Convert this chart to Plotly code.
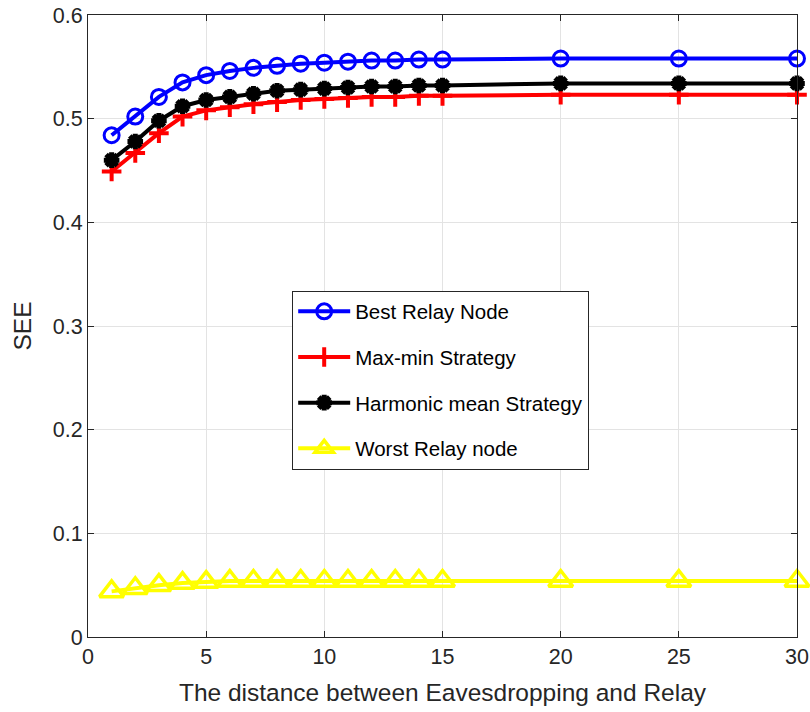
import plotly.graph_objects as go

distance = [1, 2, 3, 4, 5, 6, 7, 8, 9, 10, 11, 12, 13, 14, 15, 20, 25, 30]
best_relay = [0.484, 0.502, 0.521, 0.535, 0.542, 0.546, 0.549, 0.551, 0.553, 0.554,
              0.555, 0.556, 0.556, 0.557, 0.557, 0.558, 0.558, 0.558]
max_min = [0.449, 0.467, 0.486, 0.502, 0.508, 0.511, 0.514, 0.516, 0.518, 0.519,
           0.520, 0.521, 0.521, 0.522, 0.522, 0.523, 0.523, 0.523]
harmonic = [0.460, 0.478, 0.498, 0.512, 0.518, 0.521, 0.524, 0.527, 0.528, 0.529,
            0.530, 0.531, 0.531, 0.532, 0.532, 0.534, 0.534, 0.534]
worst_relay = [0.044, 0.047, 0.050, 0.052, 0.053, 0.054, 0.054, 0.054, 0.054, 0.054,
               0.054, 0.054, 0.054, 0.054, 0.054, 0.054, 0.054, 0.054]

series = [
    ("Best Relay Node", best_relay, "blue", "circle-open", 15, 3),
    ("Max-min Strategy", max_min, "red", "cross-thin-open", 14, 4),
    ("Harmonic mean Strategy", harmonic, "black", "asterisk-open", 13, 5),
    ("Worst Relay node", worst_relay, "#ffff00", "triangle-up-open", 21, 3.5),
]

fig = go.Figure()
for i, (name, ys, col, sym, sz, mlw) in enumerate(series):
    fig.add_trace(go.Scatter(
        x=distance, y=ys, name=name, mode="lines+markers",
        line=dict(color=col, width=4),
        marker=dict(symbol=sym, size=sz, color=col, line=dict(color=col, width=mlw)),
        legendgroup=f"g{i}", cliponaxis=False,
    ))

axis_common = dict(
    showline=True, linecolor="#262626", linewidth=1, mirror="ticks",
    ticks="inside", ticklen=6, tickcolor="#262626",
    showgrid=True, gridcolor="#e3e3e3", gridwidth=1, zeroline=False,
    automargin=False,
    tickfont=dict(family="Liberation Sans, Arial, sans-serif", size=21.5, color="#262626"),
)

fig.update_layout(
    width=810, height=712,
    margin=dict(l=88, r=13, t=15, b=75),
    plot_bgcolor="white", paper_bgcolor="white",
    font=dict(family="Liberation Sans, Arial, sans-serif", color="#262626"),
    xaxis=dict(range=[0, 30], dtick=5, tick0=0,
               title=dict(text="The distance between Eavesdropping and Relay",
                          font=dict(size=24.5, color="#262626"), standoff=16),
               **axis_common),
    yaxis=dict(range=[0, 0.6], dtick=0.1, tick0=0,
               tickformat=".1~f",
               title=dict(text="SEE", font=dict(size=24.5, color="#262626"), standoff=14),
               **axis_common),
    legend=dict(
        x=0.288, y=0.557, xanchor="left", yanchor="top",
        bgcolor="white", bordercolor="#262626", borderwidth=1,
        font=dict(size=20.5, color="black"),
        traceorder="grouped", tracegroupgap=16,
        itemwidth=52,
    ),
    showlegend=True,
)

fig.write_html("out.html")
